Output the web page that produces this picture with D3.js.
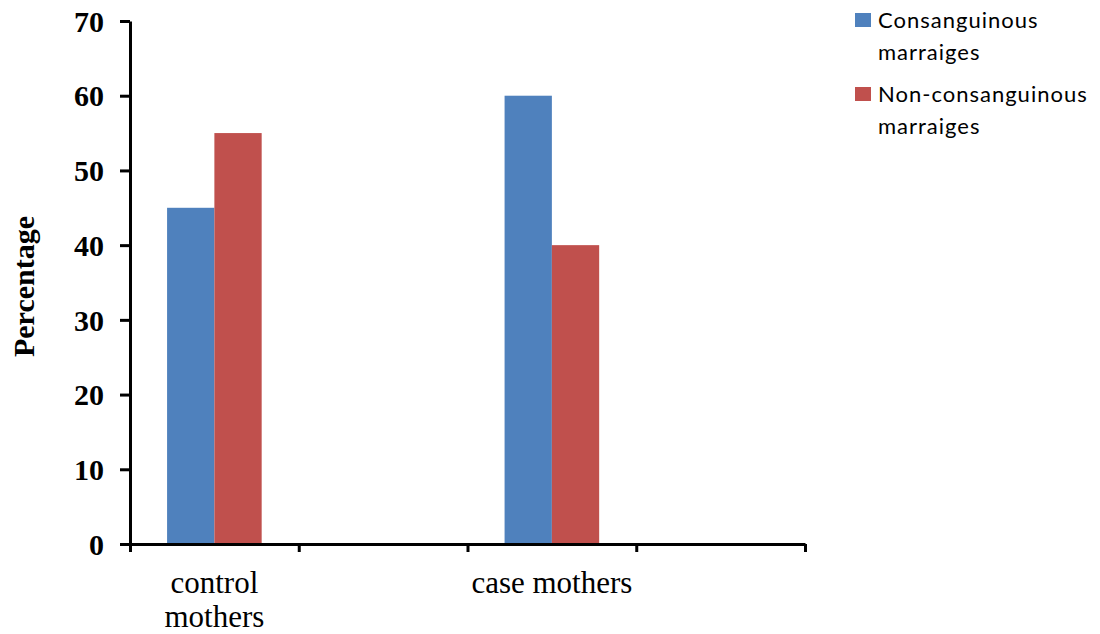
<!DOCTYPE html>
<html>
<head>
<meta charset="utf-8">
<script src="https://cdn.jsdelivr.net/npm/d3@7"></script>
<style>
  html, body { margin: 0; padding: 0; background: #fff; }
  svg { display: block; }
</style>
</head>
<body>
<svg id="chart" width="1100" height="634"></svg>
<script>
// Category slots along the x axis (empty slots leave gaps between groups)
const categories = ["control mothers", "", "case mothers", ""];
const seriesNames = ["Consanguinous marraiges", "Non-consanguinous marraiges"];
const consanguinous = [45, null, 60, null];
const nonConsanguinous = [55, null, 40, null];
const yTicks = [0, 10, 20, 30, 40, 50, 60, 70];
const colors = ["#4F81BD", "#C0504D"];

const svg = d3.select("#chart");
const margin = { left: 130, right: 295, top: 21, bottom: 90 };
const W = 1100, H = 634;
const plotLeft = margin.left, plotRight = W - margin.right;
const plotTop = margin.top, plotBottom = H - margin.bottom;

const y = d3.scaleLinear().domain([0, 70]).range([plotBottom, plotTop]);
const x = d3.scaleBand().domain(d3.range(categories.length))
  .range([plotLeft, plotRight]).paddingInner(0).paddingOuter(0);
const xInner = d3.scaleBand().domain(d3.range(seriesNames.length))
  .range([0, x.bandwidth()]).paddingInner(0).paddingOuter(0.784);
// Linear scale used for the boundary ticks between category slots
const xEdges = d3.scaleLinear().domain([0, categories.length]).range([plotLeft, plotRight]);

const series = [consanguinous, nonConsanguinous];

// Bars
series.forEach((vals, si) => {
  svg.append("g").selectAll("rect")
    .data(vals.map((v, i) => ({ v, i })).filter(d => d.v != null))
    .join("rect")
    .attr("x", d => x(d.i) + xInner(si))
    .attr("y", d => y(d.v))
    .attr("width", xInner.bandwidth())
    .attr("height", d => y(0) - y(d.v))
    .attr("fill", colors[si]);
});

// Y axis
const yAxis = svg.append("g")
  .attr("transform", `translate(${plotLeft},0)`)
  .call(d3.axisLeft(y).tickValues(yTicks).tickSize(10).tickPadding(16).tickSizeOuter(0));
yAxis.select(".domain").attr("stroke", "#000").attr("stroke-width", 3);
yAxis.selectAll(".tick line").attr("stroke", "#000").attr("stroke-width", 3);
yAxis.selectAll(".tick text")
  .attr("font-family", "'Liberation Serif', 'Times New Roman', serif")
  .attr("font-weight", "bold").attr("font-size", 30).attr("fill", "#000")
  .attr("dy", "0.34em");

// X axis with ticks on slot boundaries
const xAxis = svg.append("g")
  .attr("transform", `translate(0,${plotBottom})`)
  .call(d3.axisBottom(xEdges).tickValues(d3.range(categories.length + 1))
    .tickSize(8).tickFormat("").tickSizeOuter(0));
xAxis.select(".domain").attr("stroke", "#000").attr("stroke-width", 3);
xAxis.selectAll(".tick line").attr("stroke", "#000").attr("stroke-width", 3);

// Wraps words into lines no wider than maxW
function wrapLines(text, maxW, font) {
  const ctx = document.createElement("canvas").getContext("2d");
  ctx.font = font;
  const words = text.split(/\s+/).filter(Boolean);
  const lines = [];
  let cur = "";
  words.forEach(w => {
    const t = cur ? cur + " " + w : w;
    if (ctx.measureText(t).width > maxW && cur) { lines.push(cur); cur = w; }
    else cur = t;
  });
  if (cur) lines.push(cur);
  return lines;
}

// Category labels
const catFont = "31px 'Liberation Serif'";
categories.forEach((c, i) => {
  if (!c) return;
  const lines = wrapLines(c, x.bandwidth(), catFont);
  const t = svg.append("text")
    .attr("x", x(i) + x.bandwidth() / 2)
    .attr("y", plotBottom + 49)
    .attr("text-anchor", "middle")
    .attr("font-family", "'Liberation Serif', 'Times New Roman', serif")
    .attr("font-size", 31).attr("fill", "#000");
  lines.forEach((l, k) => t.append("tspan")
    .attr("x", x(i) + x.bandwidth() / 2)
    .attr("dy", k === 0 ? 0 : 34).text(l));
});

// Y axis title
svg.append("text")
  .attr("transform", `translate(34,${(plotTop + plotBottom) / 2 + 4}) rotate(-90)`)
  .attr("text-anchor", "middle")
  .attr("font-family", "'Liberation Serif', 'Times New Roman', serif")
  .attr("font-weight", "bold").attr("font-size", 30).attr("fill", "#000")
  .text("Percentage");

// Legend
const legFont = "22px Lato";
const legend = svg.append("g").attr("transform", "translate(855,13)");
seriesNames.forEach((name, si) => {
  const g = legend.append("g").attr("transform", `translate(0,${si * 74})`);
  g.append("rect").attr("width", 16).attr("height", 14).attr("fill", colors[si]);
  const lines = wrapLines(name, 215, legFont);
  const t = g.append("text").attr("x", 23).attr("y", 15)
    .attr("font-family", "Lato, sans-serif").attr("font-size", 22)
    .attr("letter-spacing", 1).attr("fill", "#000");
  lines.forEach((l, k) => t.append("tspan").attr("x", 23)
    .attr("dy", k === 0 ? 0 : 32).text(l));
});
</script>
</body>
</html>
